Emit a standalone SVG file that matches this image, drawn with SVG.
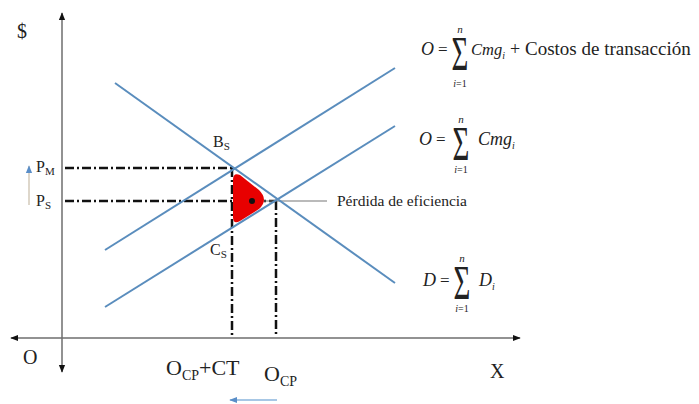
<svg xmlns="http://www.w3.org/2000/svg" width="699" height="404" viewBox="0 0 699 404">
<style>
.t{font-family:"Liberation Serif","Times New Roman",serif;fill:#222}
.m{font-family:"Liberation Serif","Times New Roman",serif;font-style:italic;fill:#222}
.ax{stroke:#6e6e6e;stroke-width:1.5;fill:none}
.curve{stroke:#5a8dbd;stroke-width:2;fill:none}
.dd{stroke:#111;stroke-width:2.5;fill:none;stroke-dasharray:9,3,2,3}
.sig{font-family:"Liberation Serif","Times New Roman",serif;fill:#222;font-size:34px;text-anchor:middle}
</style>
<defs>
<marker id="ah" viewBox="0 0 10 10" refX="9" refY="5" markerWidth="8" markerHeight="8" markerUnits="userSpaceOnUse" orient="auto-start-reverse"><path d="M0,1 L10,5 L0,9 Z" fill="#111"/></marker>
<marker id="bh" viewBox="0 0 10 10" refX="9" refY="5" markerWidth="8" markerHeight="8" markerUnits="userSpaceOnUse" orient="auto"><path d="M0,1 L10,5 L0,9 Z" fill="#5a8ec8"/></marker>
</defs>
<rect width="699" height="404" fill="#fff"/>
<g id="axes">
<line class="ax" x1="62" y1="372" x2="62" y2="13" marker-start="url(#ah)" marker-end="url(#ah)"/>
<line class="ax" x1="11" y1="338" x2="520" y2="338" marker-start="url(#ah)" marker-end="url(#ah)"/>
</g>
<g id="connectors">
<line class="dd" x1="65" y1="168" x2="233" y2="168"/>
<line class="dd" x1="232" y1="168" x2="232" y2="337"/>
<line class="dd" x1="65" y1="201" x2="277" y2="201"/>
<line class="dd" x1="276" y1="201" x2="276" y2="337"/>
<line x1="252" y1="201" x2="327" y2="201" stroke="#777" stroke-width="1.2"/>
<line x1="29" y1="205" x2="29" y2="166" stroke="#c8bca8" stroke-width="1.2" marker-end="url(#bh)"/>
<line x1="277" y1="400" x2="230" y2="400" stroke="#8ab4dc" stroke-width="1.5" marker-end="url(#bh)"/>
</g>
<g id="curves">
<line class="curve" x1="105" y1="250" x2="395" y2="68"/>
<line class="curve" x1="105" y1="307" x2="395" y2="126"/>
<line class="curve" x1="115" y1="83" x2="395" y2="283"/>
</g>
<g id="loss">
<path d="M233,180 Q233,172 240,175 L259,190 Q269,200 259,209 L240,221 Q233,225 233,217 Z" fill="#e80000"/>
<circle cx="252" cy="201" r="3" fill="#111"/>
</g>
<g id="labels">
<text class="t" x="17" y="38" font-size="20">$</text>
<text class="t" x="36" y="172" font-size="16">P<tspan font-size="11" dy="3">M</tspan></text>
<text class="t" x="36" y="206" font-size="16">P<tspan font-size="11" dy="3">S</tspan></text>
<text class="t" x="213" y="147" font-size="16">B<tspan font-size="11" dy="3">S</tspan></text>
<text class="t" x="210" y="255" font-size="16">C<tspan font-size="11" dy="3">S</tspan></text>
<text class="t" x="337" y="206" font-size="15.5">Pérdida de eficiencia</text>
<text class="t" x="23" y="364" font-size="20">O</text>
<text class="t" x="490" y="378" font-size="20">X</text>
<text class="t" x="166" y="375" font-size="22">O<tspan font-size="14" dy="5">CP</tspan><tspan dy="-5">+CT</tspan></text>
<text class="t" x="264" y="381" font-size="22">O<tspan font-size="14" dy="5">CP</tspan></text>
</g>
<g id="formula1">
<text class="m" x="421" y="55" font-size="18">O</text>
<text class="t" x="438" y="55" font-size="17">=</text>
<text class="sig" transform="translate(460,70) scale(0.85,1.4)">Σ</text>
<text class="m" x="460" y="33" font-size="11" text-anchor="middle">n</text>
<text class="m" x="460" y="87" font-size="10" text-anchor="middle">i<tspan font-style="normal">=1</tspan></text>
<text class="m" x="471" y="55" font-size="16.5">Cmg<tspan font-size="10" dy="4">i</tspan></text>
<text class="t" x="510" y="55" font-size="18">+</text>
<text class="t" x="525" y="55" font-size="19">Costos de transacción</text>
</g>
<g id="formula2">
<text class="m" x="419" y="145" font-size="18">O</text>
<text class="t" x="436" y="145" font-size="17">=</text>
<text class="sig" transform="translate(461,160) scale(0.85,1.4)">Σ</text>
<text class="m" x="461" y="123" font-size="11" text-anchor="middle">n</text>
<text class="m" x="461" y="173" font-size="10" text-anchor="middle">i<tspan font-style="normal">=1</tspan></text>
<text class="m" x="478" y="145" font-size="18">Cmg<tspan font-size="10" dy="4">i</tspan></text>
</g>
<g id="formula3">
<text class="m" x="423" y="286" font-size="18">D</text>
<text class="t" x="440" y="286" font-size="17">=</text>
<text class="sig" transform="translate(462,299) scale(0.85,1.4)">Σ</text>
<text class="m" x="462" y="262" font-size="11" text-anchor="middle">n</text>
<text class="m" x="462" y="312" font-size="10" text-anchor="middle">i<tspan font-style="normal">=1</tspan></text>
<text class="m" x="479" y="286" font-size="18">D<tspan font-size="10" dy="4">i</tspan></text>
</g>
</svg>
